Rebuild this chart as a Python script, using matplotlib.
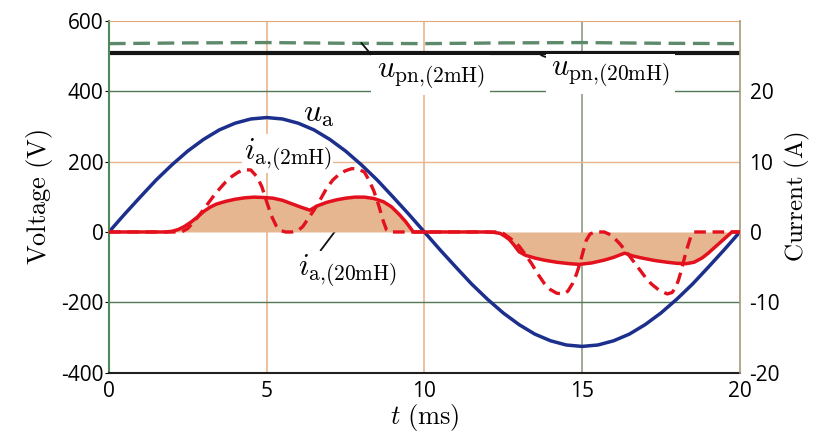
import numpy as np
import matplotlib
matplotlib.use("Agg")
import matplotlib.pyplot as plt

plt.rcParams['mathtext.fontset'] = 'cm'

# phase voltage u_a (V), read every 0.5 ms
t_u = [0, 0.5, 1, 1.5, 2, 2.5, 3, 3.5, 4, 4.5, 5, 5.5, 6, 6.5, 7, 7.5, 8, 8.5, 9, 9.5,
       10, 10.5, 11, 11.5, 12, 12.5, 13, 13.5, 14, 14.5, 15, 15.5, 16, 16.5, 17, 17.5,
       18, 18.5, 19, 19.5, 20]
u_a = [0, 51, 100, 148, 191, 230, 263, 290, 309, 321, 325, 321, 309, 290, 263, 230,
       191, 148, 100, 51, 0, -51, -100, -148, -191, -230, -263, -290, -309, -321, -325,
       -321, -309, -290, -263, -230, -191, -148, -100, -51, 0]

# dc link voltages (V)
t_pn = [0, 2.5, 5, 7.5, 10, 12.5, 15, 17.5, 20]
u_pn_2mH = [535, 537, 538, 536, 535, 537, 538, 536, 535]
u_pn_20mH = [509, 509, 509, 509, 509, 509, 509, 509, 509]

# phase current, 20 mH (A)
t_i20 = [0, 1.8, 2.0, 2.2, 2.4, 2.6, 2.8, 3.0, 3.2, 3.4, 3.7, 4.0, 4.3, 4.6, 4.9, 5.2,
         5.5, 5.8, 6.1, 6.37, 6.6, 6.9, 7.2, 7.5, 7.8, 8.1, 8.4, 8.7, 8.95, 9.2, 9.4,
         9.55, 9.65,
         11.95, 12.2, 12.4, 12.55, 12.7, 12.85, 13.0, 13.2, 13.5, 13.8, 14.2, 14.6, 14.9,
         15.3, 15.7, 16.0, 16.35, 16.6, 16.9, 17.3, 17.7, 18.0, 18.3, 18.55, 18.8, 19.0,
         19.2, 19.4, 19.6, 19.75, 20]
i_20mH = [0, 0, 0.1, 0.35, 0.8, 1.4, 2.1, 2.9, 3.5, 3.95, 4.35, 4.65, 4.85, 4.95, 4.9, 4.8,
          4.5, 4.0, 3.5, 3.1, 3.7, 4.2, 4.55, 4.8, 4.95, 4.95, 4.75, 4.3, 3.6, 2.5, 1.5,
          0.6, 0,
          0, -0.05, -0.2, -0.6, -1.1, -1.9, -2.8, -3.3, -3.7, -4.0, -4.3, -4.5, -4.6,
          -4.4, -4.0, -3.6, -3.0, -3.4, -3.7, -4.05, -4.3, -4.45, -4.5, -4.3, -3.7, -3.0,
          -2.2, -1.4, -0.6, 0, 0]

# phase current, 2 mH (A)
t_i2 = [0, 2.3, 2.5, 2.7, 2.9, 3.1, 3.3, 3.5, 3.7, 3.9, 4.1, 4.3, 4.5, 4.7, 4.85, 5.0,
        5.15, 5.3, 5.45, 5.6, 5.8, 6.0, 6.15, 6.3, 6.5, 6.7, 6.9, 7.1, 7.3, 7.5, 7.7,
        7.9, 8.1, 8.25, 8.4, 8.55, 8.7, 8.8, 8.9,
        12.3, 12.5, 12.75, 13.0, 13.2, 13.4, 13.6, 13.8, 14.0, 14.2, 14.4, 14.55, 14.7,
        14.82, 14.93, 15.03, 15.13, 15.25, 15.4, 15.7, 15.9, 16.05, 16.2, 16.4, 16.6,
        16.8, 17.0, 17.2, 17.45, 17.7, 17.85, 17.95, 18.05, 18.15, 18.25, 18.35, 18.45,
        18.55, 20]
i_2mH = [0, 0, 0.5, 1.5, 2.6, 3.8, 5.0, 6.1, 7.1, 7.9, 8.5, 8.85, 8.8, 7.8, 6.4, 4.3,
         2.3, 0.9, 0.2, 0, 0, 0.2, 0.8, 1.8, 3.1, 4.6, 6.2, 7.4, 8.2, 8.7, 9.0,
         8.95, 8.5, 7.3, 5.8, 3.8, 1.5, 0.3, 0,
         0, -0.2, -1.0, -2.0, -3.2, -4.5, -6.0, -7.3, -8.2, -8.7, -8.8, -8.4, -7.3,
         -6.0, -4.5, -2.8, -1.2, -0.3, 0, 0, -0.4, -1.0, -1.7, -2.8, -4.0,
         -5.2, -6.4, -7.4, -8.3, -8.8, -8.6, -8.0, -6.9, -5.4, -3.6, -2.0, -0.6,
         0, 0]

v_ticks = [-400, -200, 0, 200, 400, 600]
i_ticks = [-20, -10, 0, 10, 20]
t_ticks = [0, 5, 10, 15, 20]

orange = '#eab48c'
green = '#4f7a55'
fill_col = '#e6b690'

fig = plt.figure(figsize=(8.13, 4.32), dpi=100)
ax = fig.add_axes([0.134, 0.137, 0.776, 0.815])
ax2 = ax.twinx()

# grid
for x, c in [(5, orange), (10, orange), (15, '#8c9c84')]:
    ax.axvline(x, color=c, lw=1.2, zorder=0.5)
for y, c in [(400, green), (200, orange), (-200, green)]:
    ax.axhline(y, color=c, lw=1.0, zorder=0.5)

ax.plot(t_pn, u_pn_20mH, color='#151515', lw=3, zorder=2)
ax.plot(t_pn, u_pn_2mH, color='#5e8a6c', lw=2.4, dashes=(5, 2.3), zorder=2)
ax.plot(t_u, u_a, color='#1c2f8c', lw=2.5, zorder=2)

ax2.fill_between(t_i20, i_20mH, 0, color=fill_col, lw=0, zorder=1)
ax2.plot(t_i2, i_2mH, color='#e3101e', lw=2.4, dashes=(3.5, 2), zorder=2)
ax2.plot(t_i20, i_20mH, color='#e3101e', lw=2.5, zorder=3)

ax.set_xlim(0, 20)
ax.set_ylim(-400, 600)
ax2.set_ylim(-20, 30)
ax.set_xticks(t_ticks)
ax.set_yticks(v_ticks)
ax2.set_yticks(i_ticks)

tick_font = dict(family='Open Sans', size=15)
ax.set_xticklabels([str(v) for v in t_ticks], **tick_font)
ax.set_yticklabels([str(v) for v in v_ticks], **tick_font)
ax2.set_yticklabels([str(v) for v in i_ticks], **tick_font)
ax.tick_params(axis='x', length=0, pad=6)
ax.tick_params(axis='y', length=3, pad=1, direction='out')
ax2.tick_params(axis='y', length=0, pad=7)

ax.set_ylabel(r'$\mathrm{Voltage\ (V)}$', fontsize=19, labelpad=4)
ax2.set_ylabel(r'$\mathrm{Current\ (A)}$', fontsize=18, labelpad=2)
ax.set_xlabel(r'$t\ \mathrm{(ms)}$', fontsize=19, labelpad=0)

ax.spines['left'].set_color('#4d8a58')
ax.spines['left'].set_linewidth(1.5)
ax.spines['bottom'].set_color('#202020')
ax.spines['bottom'].set_linewidth(1.5)
ax.spines['top'].set_color('#e0a878')
ax.spines['right'].set_visible(False)
for s in ['left', 'bottom', 'top']:
    ax2.spines[s].set_visible(False)
ax2.spines['right'].set_color('#a89878')
ax2.spines['right'].set_linewidth(1.2)

box = dict(facecolor='white', edgecolor='none', pad=1.0)
ax.text(6.65, 337, r'$u_\mathrm{a}$', fontsize=23, ha='center', va='center', zorder=3)
ax.text(5.67, 222, r'$i_{\mathrm{a{,}(2mH)}}$', fontsize=22, ha='center', va='center',
        bbox=box, zorder=1)
ax.annotate(r'$i_{\mathrm{a{,}(20mH)}}$', xy=(7.32, 20), xytext=(7.55, -108), fontsize=22,
            ha='center', va='center', bbox=box, zorder=3,
            arrowprops=dict(arrowstyle='-', color='#111', lw=1.3, relpos=(0.22, 1.0),
                            shrinkA=0, shrinkB=0))
ax.annotate(r'$u_{\mathrm{pn{,}(2mH)}}$', xy=(8.0, 537), xytext=(10.2, 445), fontsize=22,
            ha='center', va='center', bbox=dict(facecolor='white', edgecolor='none', pad=4),
            zorder=3,
            arrowprops=dict(arrowstyle='-', color='#111', lw=1.3, relpos=(0.0, 1.0),
                            shrinkA=0, shrinkB=0))
ax.annotate(r'$u_{\mathrm{pn{,}(20mH)}}$', xy=(13.7, 502), xytext=(15.9, 450), fontsize=22,
            ha='center', va='center', bbox=dict(facecolor='white', edgecolor='none', pad=4),
            zorder=3,
            arrowprops=dict(arrowstyle='-', color='#111', lw=1.3, relpos=(0.0, 1.0),
                            shrinkA=0, shrinkB=0))

fig.savefig('out.png', dpi=100)
